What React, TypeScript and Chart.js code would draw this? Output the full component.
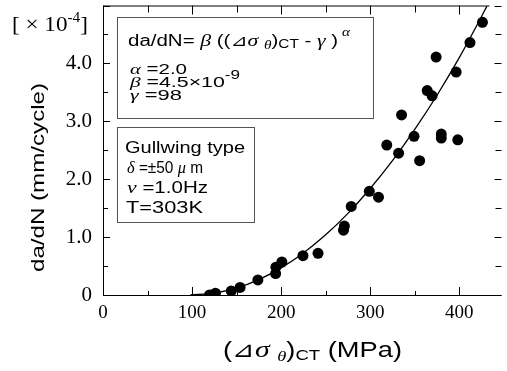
import React, { useEffect, useRef } from "react";
import { Chart, registerables } from "chart.js";

Chart.register(...registerables);

// ---- data ----
const measuredStress = [119.6, 126.2, 144, 153.9, 173.9, 193.8, 194.1, 200.8, 224.5, 241.4, 270, 271, 278.7, 299, 309.3, 318.6, 331.9, 335.2, 349.2, 355.5, 364, 369.5, 374, 379.8, 379.8, 396.5, 398.3, 412, 426];
const measuredRate = [0.0, 0.03, 0.07, 0.13, 0.26, 0.37, 0.48, 0.57, 0.68, 0.72, 1.12, 1.19, 1.53, 1.79, 1.69, 2.59, 2.45, 3.11, 2.74, 2.32, 3.53, 3.44, 4.11, 2.78, 2.71, 3.85, 2.68, 4.36, 4.71];

const fitStress = [98, 125, 150, 175, 200, 225, 250, 275, 300, 325, 350, 375, 400, 425, 431];
const fitRate = [0, 0.033, 0.122, 0.267, 0.468, 0.726, 1.04, 1.41, 1.84, 2.32, 2.86, 3.45, 4.1, 4.81, 4.99];

const xMajorTicks = [0, 100, 200, 300, 400];
const xMinorTicks = [50, 150, 250, 350];
const yMajorTicks = [0, 1, 2, 3, 4, 5];
const yMinorTicks = [0.5, 1.5, 2.5, 3.5, 4.5];

const X_MIN = 0;
const X_MAX = 447.4;
const Y_MIN = 0;
const Y_MAX = 5;

const SANS = "'Liberation Sans', Arial, sans-serif";
const SERIF = "'Liberation Serif', 'Times New Roman', serif";
const GREEK = "'Liberation Serif', 'DejaVu Serif', serif";
const TRI = "'DejaVu Sans', 'Noto Sans CJK JP', sans-serif";

type Run = { t: string; f: string; dy?: number };

function drawRuns(ctx: CanvasRenderingContext2D, runs: Run[], x0: number, x1: number | null, base: number) {
  const widths = runs.map((r) => {
    ctx.font = r.f;
    return ctx.measureText(r.t).width;
  });
  const total = widths.reduce((a, b) => a + b, 0);
  const sx = x1 != null ? (x1 - x0) / total : 1;
  let x = x0;
  runs.forEach((r, i) => {
    ctx.save();
    ctx.font = r.f;
    ctx.textBaseline = "alphabetic";
    ctx.textAlign = "left";
    ctx.fillStyle = "#000";
    ctx.translate(x, base + (r.dy || 0));
    ctx.scale(sx, 1);
    ctx.fillText(r.t, 0, 0);
    ctx.restore();
    x += widths[i] * sx;
  });
}

const decorPlugin = {
  id: "decor",
  afterDraw(chart: any) {
    const ctx: CanvasRenderingContext2D = chart.ctx;
    const { left, right, top, bottom } = chart.chartArea;
    const xs = chart.scales.x;
    const ys = chart.scales.y;
    ctx.save();
    ctx.strokeStyle = "#000";
    ctx.lineWidth = 1;
    // axes frame
    ctx.beginPath();
    ctx.moveTo(left + 0.5, top + 0.5);
    ctx.lineTo(left + 0.5, bottom + 0.5);
    ctx.lineTo(right, bottom + 0.5);
    ctx.moveTo(left, top + 0.5);
    ctx.lineTo(right - 12, top + 0.5);
    ctx.stroke();
    // x ticks (inward, bottom and top)
    ctx.beginPath();
    const xt = (vals: number[], lb: number, lt: number) => {
      vals.forEach((v) => {
        const px = Math.round(xs.getPixelForValue(v)) + 0.5;
        ctx.moveTo(px, bottom);
        ctx.lineTo(px, bottom - lb);
        ctx.moveTo(px, top);
        ctx.lineTo(px, top + lt);
      });
    };
    xt(xMajorTicks, 8, 9);
    xt(xMinorTicks, 4, 7);
    const yt = (vals: number[], ll: number, lr: number) => {
      vals.forEach((v) => {
        const py = Math.round(ys.getPixelForValue(v)) + 0.5;
        ctx.moveTo(left, py);
        ctx.lineTo(left + ll, py);
        ctx.moveTo(right, py);
        ctx.lineTo(right - lr, py);
      });
    };
    yt(yMajorTicks, 7, 7);
    yt(yMinorTicks, 5, 6);
    ctx.stroke();

    // annotation boxes
    ctx.fillStyle = "#fff";
    ctx.strokeStyle = "#555";
    ctx.fillRect(117, 17, 256, 101);
    ctx.strokeRect(117.5, 17.5, 256, 101);
    ctx.fillRect(117, 127, 137, 95);
    ctx.strokeRect(117.5, 127.5, 137, 95);

    const s16 = `16px ${SANS}`;
    const s15 = `15px ${SANS}`;
    const s12 = `12px ${SANS}`;
    const g17 = `italic 17px ${GREEK}`;
    const g15 = `italic 15px ${GREEK}`;
    const g12 = `italic 12px ${GREEK}`;
    const t16 = `16px ${TRI}`;

    drawRuns(ctx, [
      { t: "da/dN=", f: s16 },
      { t: " ", f: s16 },
      { t: "β", f: g17 },
      { t: " ((", f: s16 },
      { t: "⊿", f: t16 },
      { t: "σ", f: g17 },
      { t: " ", f: s16 },
      { t: "θ", f: g12, dy: 3 },
      { t: ")", f: s16 },
      { t: "CT", f: s12, dy: 2 },
      { t: " - ", f: s16 },
      { t: "γ", f: g17 },
      { t: " )", f: s16 },
      { t: " α", f: g12, dy: -10 },
    ], 128, 350, 46);

    drawRuns(ctx, [{ t: "α", f: g15 }, { t: " =2.0", f: s15 }], 130, 187, 74);
    drawRuns(ctx, [
      { t: "β", f: g15 },
      { t: " =4.5", f: s15 },
      { t: "×", f: s15 },
      { t: "10", f: s15 },
      { t: "-9", f: s12, dy: -8 },
    ], 130, 240, 87);
    drawRuns(ctx, [{ t: "γ", f: g15 }, { t: " =98", f: s15 }], 130, 182, 100);

    drawRuns(ctx, [{ t: "Gullwing type", f: s16 }], 125, 245, 153);
    drawRuns(ctx, [
      { t: "δ", f: g17 },
      { t: " =±50 ", f: s16 },
      { t: "μ", f: g17 },
      { t: " m", f: s16 },
    ], 127, 203, 173);
    drawRuns(ctx, [{ t: "ν", f: g17 }, { t: " =1.0Hz", f: s16 }], 127, 208, 193);
    drawRuns(ctx, [{ t: "T=303K", f: s16 }], 126, 203, 213);

    // unit label
    const r21 = `21px ${SERIF}`;
    drawRuns(ctx, [
      { t: "[", f: r21 },
      { t: " × ", f: r21 },
      { t: "10", f: r21 },
      { t: "-4", f: `14px ${SERIF}`, dy: -9 },
      { t: "]", f: r21 },
    ], 12, 88, 31);

    // x title
    const s22 = `22px ${SANS}`;
    drawRuns(ctx, [
      { t: "(", f: s22 },
      { t: "⊿", f: `22px ${TRI}` },
      { t: "σ", f: `italic 24px ${GREEK}` },
      { t: " ", f: s22 },
      { t: "θ", f: `italic 15px ${GREEK}`, dy: 4 },
      { t: ")", f: s22 },
      { t: "CT", f: `15px ${SANS}`, dy: 3 },
      { t: " (MPa)", f: s22 },
    ], 223, 402, 357);

    // y title (rotated)
    ctx.save();
    ctx.translate(44, 272);
    ctx.rotate(-Math.PI / 2);
    drawRuns(ctx, [{ t: "da/dN (mm/cycle)", f: `19px ${SANS}` }], 0, 189, 0);
    ctx.restore();

    ctx.restore();
  },
};

export default function App() {
  const ref = useRef<HTMLCanvasElement>(null);
  useEffect(() => {
    if (!ref.current) return;
    const chart = new Chart(ref.current, {
      type: "scatter",
      data: {
        datasets: [
          {
            type: "line" as any,
            label: "fit",
            data: fitStress.map((x, i) => ({ x, y: fitRate[i] })),
            borderColor: "#000",
            borderWidth: 1.3,
            pointRadius: 0,
            fill: false,
            cubicInterpolationMode: "monotone",
            showLine: true,
          } as any,
          {
            label: "data",
            data: measuredStress.map((x, i) => ({ x, y: measuredRate[i] })),
            backgroundColor: "#000",
            borderColor: "#000",
            borderWidth: 0,
            pointRadius: 5.5,
            pointHoverRadius: 5.5,
          },
        ],
      },
      options: {
        animation: false,
        responsive: false,
        devicePixelRatio: 1,
        events: [],
        layout: { padding: { top: 5, left: 0, right: 0, bottom: 0 } },
        plugins: { legend: { display: false }, tooltip: { enabled: false }, title: { display: false } },
        scales: {
          x: {
            type: "linear",
            min: X_MIN,
            max: X_MAX,
            grid: { display: false, drawTicks: false },
            border: { display: false },
            ticks: {
              stepSize: 100,
              includeBounds: false,
              padding: 7,
              color: "#000",
              maxRotation: 0,
              autoSkip: false,
              font: { family: SERIF, size: 19 },
            },
            afterFit: (s: any) => {
              s.height = 76;
              s.paddingLeft = 0;
              s.paddingRight = 0;
            },
          },
          y: {
            type: "linear",
            min: Y_MIN,
            max: Y_MAX,
            grid: { display: false, drawTicks: false },
            border: { display: false },
            ticks: {
              stepSize: 1,
              padding: 11,
              color: "#000",
              font: { family: SERIF, size: 21 },
              callback: (v: any) => (v === 0 ? "0" : v >= 5 ? "" : Number(v).toFixed(1)),
            },
            afterFit: (s: any) => {
              s.width = 103;
              s.paddingTop = 0;
              s.paddingBottom = 0;
            },
          },
        },
      },
      plugins: [decorPlugin],
    });
    return () => chart.destroy();
  }, []);
  return (
    <div style={{ position: "fixed", left: 0, top: 0, width: 507, height: 371, background: "#fff" }}>
      <canvas ref={ref} width={507} height={371} style={{ display: "block" }} />
    </div>
  );
}
